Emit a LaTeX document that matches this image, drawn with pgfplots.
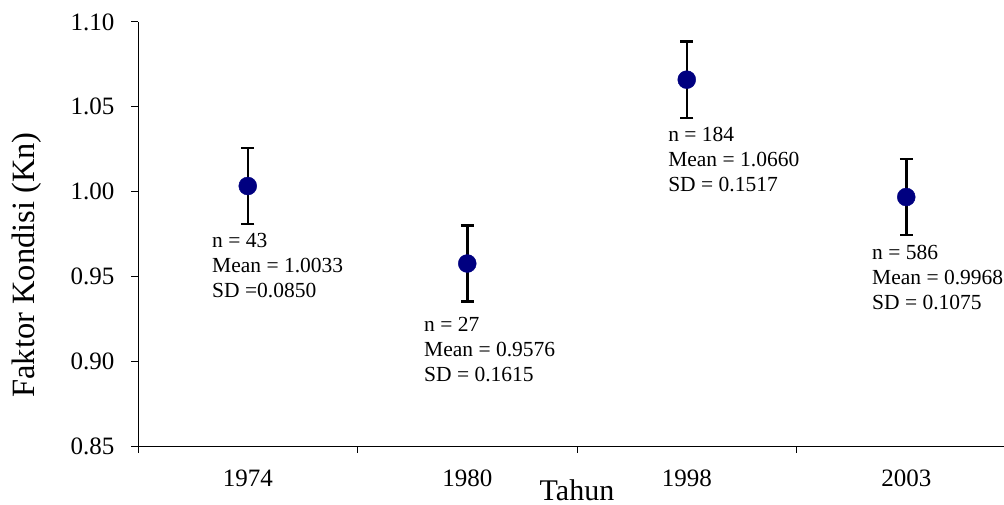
\documentclass[border=0pt]{standalone}
\usepackage{fontspec}
\setmainfont{Liberation Serif}
\usepackage{pgfplots}
\pgfplotsset{compat=1.18}
\definecolor{navy}{RGB}{0,0,128}
\begin{document}
\begin{tikzpicture}
\begin{axis}[
  name=ax, at={(0,0)}, anchor=south west,
  scale only axis, width=878bp, height=424bp,
  xmin=-0.5, xmax=3.5, ymin=0.85, ymax=1.10,
  axis lines*=left,
  axis line style={black, line width=1bp},
  tick align=outside,
  major tick length=6.5bp,
  tick style={black, line width=1bp},
  ytick={0.85,0.9,0.95,1,1.05,1.1},
  yticklabels={0.85,0.90,0.95,1.00,1.05,1.10},
  xtick={-0.5,0.5,1.5,2.5,3.5},
  xticklabels={},
  extra x ticks={0,1,2,3},
  extra x tick labels={1974,1980,1998,2003},
  extra x tick style={major tick length=0pt},
  tick label style={font=\fontsize{25bp}{30bp}\selectfont},
  yticklabel style={anchor=east, inner sep=0pt, xshift=-17bp},
  xticklabel style={anchor=north, inner sep=0pt, yshift=-24bp},
  clip=false,
]
\addplot[only marks, mark=*, mark size=9bp, mark options={fill=navy, draw=navy},
  error bars/.cd, y dir=both, y explicit,
  error bar style={black, line width=2.5bp},
  error mark options={rotate=90, black, line width=2.5bp, mark size=6.5bp}]
  coordinates {
  (0,1.0033) +- (0,0.0225)
  (1,0.9576) +- (0,0.0225)
  (2,1.0660) +- (0,0.0225)
  (3,0.9968) +- (0,0.0225)
  };
\tikzset{ann/.style={anchor=north west, inner sep=0pt, align=left, font=\fontsize{21.5bp}{25bp}\selectfont}}
\node[ann] at (axis cs:-0.163,0.9756) {n = 43\\Mean = 1.0033\\SD =0.0850};
\node[ann] at (axis cs:0.803,0.9261) {n = 27\\Mean = 0.9576\\SD = 0.1615};
\node[ann] at (axis cs:1.915,1.0381) {n = 184\\Mean = 1.0660\\SD = 0.1517};
\node[ann] at (axis cs:2.844,0.9685) {n = 586\\Mean = 0.9968\\SD = 0.1075};
\end{axis}
\node[anchor=base, inner sep=0pt, font=\fontsize{30bp}{36bp}\selectfont] at (439bp,-54bp) {Tahun};
\node[anchor=base, rotate=90, font=\fontsize{32.5bp}{38bp}\selectfont] at (-103bp,181bp) {Faktor Kondisi (Kn)};
\pgfresetboundingbox
\path[use as bounding box] (-138bp,-59bp) rectangle (866bp,446bp);
\end{tikzpicture}
\end{document}
